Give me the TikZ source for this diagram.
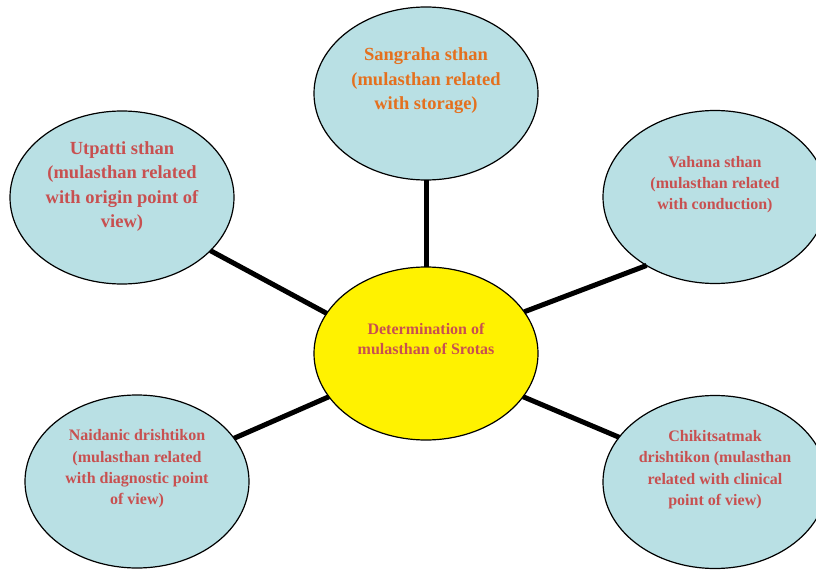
\documentclass[tikz,border=0pt]{standalone}
\usepackage{fontspec}
\setmainfont{Liberation Serif}
\usetikzlibrary{shapes.geometric}
\definecolor{ovalBlue}{RGB}{185,224,228}
\definecolor{textRed}{RGB}{200,80,80}
\definecolor{textOrange}{RGB}{228,112,30}

\begin{document}
\begin{tikzpicture}
[x=1pt,y=-1pt,
  ovalDecorate/.style={shape=ellipse,draw,line width=1.2pt,fill=ovalBlue,
    inner sep=0pt,outer sep=0pt,minimum width=224pt,minimum height=173pt},%
  lineDecorate/.style={-,line width=5pt},%
  bigText/.style={align=center,text=textRed,font=\fontsize{18.5}{24.5}\selectfont\bfseries},%
  smallText/.style={align=center,text=textRed,font=\fontsize{16}{21.3}\selectfont\bfseries}]
\useasboundingbox (0,0) rectangle (816,572);
%% ovals
\foreach \nodename/\x/\y in {
  T/426/93.5, UL/122/197.5, UR/715/197, LL/137/481.5, LR/715/482}
{
  \node (\nodename) at (\x,\y) [ovalDecorate] {};
}
\node (C) at (426,353.5) [ovalDecorate,fill=yellow] {};
%% texts
\node (Ttext) at (426,81) [bigText,text=textOrange] {Sangraha sthan\\(mulasthan related\\with storage)};
\node (ULtext) at (122,186.5) [bigText] {Utpatti sthan\\(mulasthan related\\with origin point of\\view)};
\node (URtext) at (715,184.5) [smallText] {Vahana sthan\\(mulasthan related\\with conduction)};
\node (LLtext) at (137,469) [smallText] {Naidanic drishtikon\\(mulasthan related\\with diagnostic point\\of view)};
\node (LRtext) at (715,469.5) [smallText] {Chikitsatmak\\drishtikon (mulasthan\\related with clinical\\point of view)};
\node (Ctext) at (426,339) [smallText,font=\fontsize{16}{20}\selectfont\bfseries] {Determination of\\mulasthan of Srotas};
%% edges
\path
\foreach \startnode/\endnode in {
  T.-90/C.90, UL.-31/C.158, UR.-135/C.23, LL.24/C.204, LR.155/C.-24}
{
  (\startnode) edge[lineDecorate] (\endnode)
};
\end{tikzpicture}
\end{document}
